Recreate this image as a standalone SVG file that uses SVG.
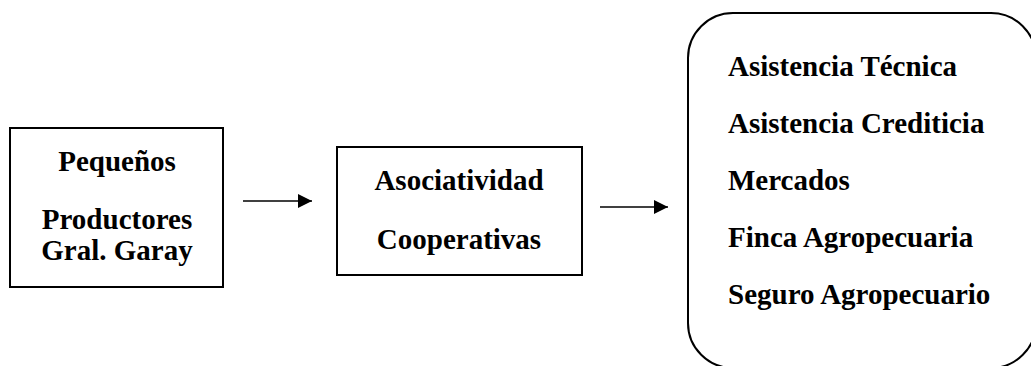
<svg xmlns="http://www.w3.org/2000/svg" width="1031" height="366" viewBox="0 0 1031 366">
<style>
.box{fill:#fff;stroke:#000;stroke-width:2}
.t{font-family:"Liberation Serif","Times New Roman",serif;font-weight:bold;font-size:29px;fill:#000}
.c{text-anchor:middle}
.conn{stroke:#000;stroke-width:1.5;fill:none}
</style>
<defs>
<marker id="ah" viewBox="0 0 10 10" refX="10" refY="5" markerWidth="14" markerHeight="14" markerUnits="userSpaceOnUse" orient="auto">
<path d="M0,0 L10,5 L0,10 Z" fill="#000"/>
</marker>
</defs>
<g id="node-productores">
<rect class="box" x="10" y="128" width="213" height="159"/>
<text class="t c" x="117" y="171">Pequeños</text>
<text class="t c" x="117" y="229">Productores</text>
<text class="t c" x="117" y="260">Gral. Garay</text>
</g>
<g id="node-asociatividad">
<rect class="box" x="337" y="147" width="245" height="128"/>
<text class="t c" x="459" y="190">Asociatividad</text>
<text class="t c" x="459" y="249">Cooperativas</text>
</g>
<g id="node-servicios">
<rect class="box" x="688" y="13" width="348" height="355" rx="45" ry="45"/>
<text class="t" x="728" y="76">Asistencia Técnica</text>
<text class="t" x="728" y="133">Asistencia Crediticia</text>
<text class="t" x="728" y="190">Mercados</text>
<text class="t" x="728" y="247">Finca Agropecuaria</text>
<text class="t" x="728" y="304">Seguro Agropecuario</text>
</g>
<g id="connectors">
<line class="conn" x1="243" y1="201" x2="312" y2="201" marker-end="url(#ah)"/>
<line class="conn" x1="600" y1="207" x2="668" y2="207" marker-end="url(#ah)"/>
</g>
</svg>
